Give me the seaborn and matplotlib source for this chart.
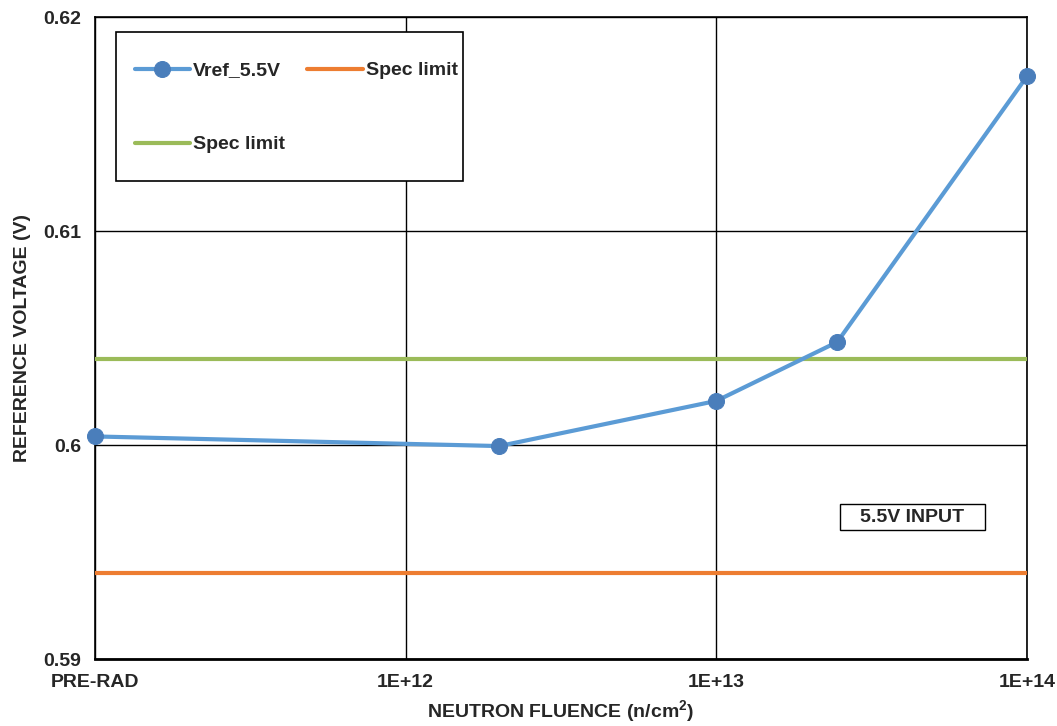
import matplotlib
matplotlib.use("Agg")
import matplotlib.pyplot as plt
from matplotlib.patches import Rectangle
import seaborn as sns
import pandas as pd

# Data
fluence = [1e11, 2e12, 1e13, 2.45e13, 1e14]
vref = [0.6004, 0.59995, 0.60206, 0.60481, 0.61723]
spec_low = 0.5940
spec_high = 0.6040
xticks = [1e11, 1e12, 1e13, 1e14]
xticklabels = ["PRE-RAD", "1E+12", "1E+13", "1E+14"]
yticks = [0.59, 0.60, 0.61, 0.62]
yticklabels = ["0.59", "0.6", "0.61", "0.62"]

sns.set_theme(style="white")
plt.rcParams['font.family'] = ['Liberation Sans', 'DejaVu Sans']
plt.rcParams['mathtext.fontset'] = 'custom'
plt.rcParams['mathtext.bf'] = 'Liberation Sans:bold'
plt.rcParams['mathtext.rm'] = 'Liberation Sans'

FS = 14

fig = plt.figure(figsize=(10.57, 7.26), dpi=100)
ax = fig.add_axes([95/1057, 1-659/726, (1027-95)/1057, (659-17)/726])

df = pd.DataFrame({"fluence": fluence, "vref": vref})
ax.set_xscale("log")
sns.lineplot(data=df, x="fluence", y="vref", ax=ax, color="#5B9BD5", lw=3.0,
             marker="o", markersize=11.5, markerfacecolor="#4A7EBB", markeredgecolor="#4A7EBB",
             label="Vref_5.5V", zorder=4, clip_on=False)
h_or = ax.axhline(spec_low, color="#ED7D31", lw=3.0, label="Spec limit", zorder=3)
h_gr = ax.axhline(spec_high, color="#9BBB59", lw=3.0, label="Spec limit", zorder=3)

ax.set_xlim(1e11, 1e14)
ax.set_ylim(0.59, 0.62)
ax.set_xticks(xticks)
ax.set_xticklabels(xticklabels)
ax.set_yticks(yticks)
ax.set_yticklabels(yticklabels)
ax.minorticks_off()
ax.tick_params(axis="x", length=0, labelsize=FS, pad=11)
ax.tick_params(axis="y", length=0, labelsize=FS, pad=10)
for lab in ax.get_xticklabels() + ax.get_yticklabels():
    lab.set_fontweight("bold")
ax.grid(True, which="major", color="black", lw=1)
for s in ax.spines.values():
    s.set_color("black")
    s.set_linewidth(1.2)
ax.spines["bottom"].set_linewidth(2)

ax.set_xlabel("NEUTRON FLUENCE (n/cm$^{\\mathbf{2}}$)", fontsize=FS, fontweight="bold", labelpad=5)
ax.set_ylabel("REFERENCE VOLTAGE (V)", fontsize=FS, fontweight="bold", labelpad=9)

# legend frame
ax.add_patch(Rectangle((0.02253, 0.7445), 0.3948 - 0.02253, 0.9766 - 0.7445,
                       transform=ax.transAxes, fc="white", ec="black", lw=1.2, zorder=5))
handles, labels = ax.get_legend_handles_labels()
h_vref = handles[0]
leg = ax.legend([h_vref, h_gr, h_or], ["Vref_5.5V", "Spec limit", "Spec limit"], loc="upper left",
                bbox_to_anchor=(125/1057, 1-52/726), bbox_transform=fig.transFigure, ncol=2,
                frameon=False, prop={"weight": "bold", "size": FS}, borderpad=0,
                labelspacing=2.9, handlelength=2.85, handletextpad=0.15, columnspacing=1.15)
leg.set_zorder(6)

# annotation box
ax.add_patch(Rectangle((0.7994, 0.2009), 0.9549 - 0.7994, 0.2414 - 0.2009,
                       transform=ax.transAxes, fc="white", ec="black", lw=1, zorder=5))
ax.text((0.7994 + 0.9549) / 2, (0.2009 + 0.2414) / 2, "5.5V INPUT", transform=ax.transAxes,
        ha="center", va="center", fontsize=FS, fontweight="bold", zorder=6)

fig.savefig("out.png", dpi=100)
